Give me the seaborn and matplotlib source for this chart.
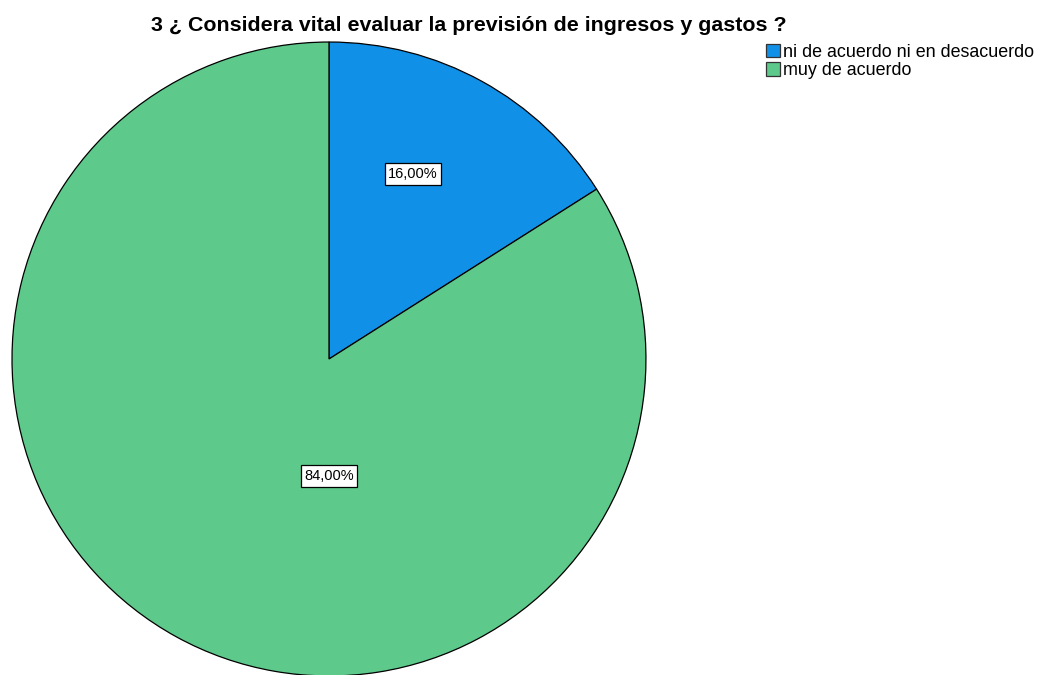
import matplotlib
matplotlib.use("Agg")
import matplotlib.pyplot as plt
import seaborn as sns
from matplotlib.patches import Patch

sns.set_theme(style="white")
plt.rcParams['font.family'] = ['Liberation Sans', 'DejaVu Sans']
plt.rcParams['text.color'] = 'black'

categories = ["ni de acuerdo ni en desacuerdo", "muy de acuerdo"]
values = [16.0, 84.0]
value_labels = ["16,00%", "84,00%"]
colors = ["#1190E8", "#5DC98B"]
title = "3 ¿ Considera vital evaluar la previsión de ingresos y gastos ?"

fig = plt.figure(figsize=(10.42, 6.75), dpi=100)
fig.patch.set_facecolor("white")
ax = fig.add_axes([0.01152, -0.0015, 0.6084, 0.9393])
wedges, _ = ax.pie(values, colors=colors, startangle=90, counterclock=False,
                   wedgeprops=dict(edgecolor="black", linewidth=0.9))
ax.set_xlim(-1, 1)
ax.set_ylim(-1, 1)
ax.set_aspect("equal")

label_pos = [(0.265, 0.584), (0.0, -0.369)]
for (x, y), lab in zip(label_pos, value_labels):
    ax.text(x, y, lab, ha="center", va="center", fontsize=10.5, color="black",
            bbox=dict(boxstyle="square,pad=0.25", facecolor="white", edgecolor="black", linewidth=0.9))

fig.text(0.450, 0.954, title, ha="center", va="baseline", fontsize=15.4,
         fontweight="bold", color="black")

handles = [Patch(facecolor=c, edgecolor="#333333", linewidth=0.9) for c in colors]
fig.legend(handles, categories, loc="upper left", bbox_to_anchor=(0.735, 0.9355),
           frameon=False, fontsize=12.9, handlelength=0.78, handleheight=0.78,
           handletextpad=0.2, labelspacing=0.1, borderpad=0, borderaxespad=0)

fig.savefig("out.png", dpi=100)
